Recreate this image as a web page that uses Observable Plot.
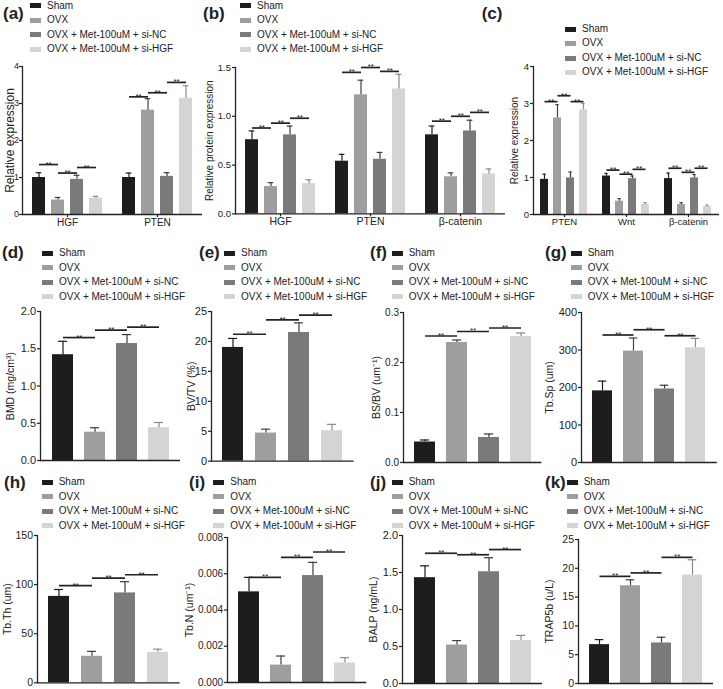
<!DOCTYPE html>
<html><head><meta charset="utf-8">
<script src="https://cdn.jsdelivr.net/npm/d3@7"></script>
<script src="https://cdn.jsdelivr.net/npm/@observablehq/plot@0.6"></script>
<style>
html,body{margin:0;padding:0;background:#fff;overflow:hidden;}
#page{position:relative;width:723px;height:689px;font-family:"Liberation Sans",Arial,Helvetica,sans-serif;color:#222;}
.tag{position:absolute;font-size:17px;font-weight:bold;line-height:20px;height:20px;white-space:nowrap;}
.legend{position:absolute;font-size:10px;line-height:14.5px;}
.legend .row{display:flex;align-items:center;height:14.5px;white-space:nowrap;}
.legend .sw{width:11px;height:5px;flex:none;margin-right:6px;}
.holder{position:absolute;}
</style></head><body><div id="page"></div>
<script>
// ---------- data ----------
const series = ["Sham", "OVX", "OVX + Met-100uM + si-NC", "OVX + Met-100uM + si-HGF"];

// (a) qPCR
const aGroups = ["HGF", "PTEN"];
const aMean = [[1.00, 0.39, 0.95, 0.44], [1.00, 2.82, 1.03, 3.14]];
const aErr  = [[0.13, 0.07, 0.11, 0.05], [0.12, 0.31, 0.10, 0.34]];
const aSig  = [[1.35, 1.12, 1.27], [3.18, 3.29, 3.57]];
const aTicks = [0, 1, 2, 3, 4];

// (b) western blot
const bGroups = ["HGF", "PTEN", "β-catenin"];
const bMean = [[0.76, 0.28, 0.81, 0.31], [0.54, 1.22, 0.56, 1.28], [0.81, 0.38, 0.85, 0.41]];
const bErr  = [[0.09, 0.04, 0.09, 0.04], [0.07, 0.15, 0.07, 0.15], [0.09, 0.04, 0.11, 0.05]];
const bSig  = [[0.88, 0.93, 0.98], [1.45, 1.50, 1.46], [0.95, 1.00, 1.04]];
const bTicks = [0, 0.5, 1.0, 1.5];

// (c) qPCR
const cGroups = ["PTEN", "Wnt", "β-catenin"];
const cMean = [[0.95, 2.61, 0.99, 2.83], [1.04, 0.36, 0.97, 0.27], [0.97, 0.27, 0.99, 0.22]];
const cErr  = [[0.14, 0.36, 0.16, 0.17], [0.07, 0.07, 0.07, 0.05], [0.15, 0.05, 0.09, 0.03]];
const cSig  = [[3.05, 3.21, 3.05], [1.20, 1.09, 1.22], [1.25, 1.14, 1.25]];
const cTicks = [0, 1, 2, 3, 4];

// (d)-(k) single measures
const dMean = [1.42, 0.38, 1.57, 0.44];        const dErr = [0.18, 0.06, 0.12, 0.07];       const dSig = [1.65, 1.75, 1.79];
const dTicks = [0, 0.5, 1.0, 1.5, 2.0];
const eMean = [19.0, 4.7, 21.5, 5.1];          const eErr = [1.5, 0.65, 1.6, 1.05];         const eSig = [21.2, 23.6, 24.4];
const eTicks = [0, 5, 10, 15, 20, 25];
const fMean = [0.041, 0.240, 0.050, 0.252];    const fErr = [0.004, 0.005, 0.007, 0.007];   const fSig = [0.253, 0.262, 0.269];
const fTicks = [0, 0.1, 0.2, 0.3];
const gMean = [191, 297, 196, 306];            const gErr = [26, 35, 10, 25];               const gSig = [340, 354, 338];
const gTicks = [0, 100, 200, 300, 400];
const hMean = [88, 27, 91.5, 31];              const hErr = [7, 5, 11.5, 3.2];              const hSig = [99, 106.5, 110];
const hTicks = [0, 50, 100, 150];
const iMean = [0.0050, 0.00096, 0.0059, 0.00107]; const iErr = [0.0008, 0.0005, 0.00073, 0.0003]; const iSig = [0.0058, 0.0069, 0.0072];
const iTicks = [0, 0.002, 0.004, 0.006, 0.008];
const jMean = [1.43, 0.52, 1.51, 0.58];        const jErr = [0.16, 0.06, 0.19, 0.07];       const jSig = [1.76, 1.74, 1.81];
const jTicks = [0, 0.5, 1.0, 1.5, 2.0];
const kMean = [6.75, 16.97, 7.04, 18.82];      const kErr = [0.87, 1.03, 0.99, 2.66];       const kSig = [18.6, 19.2, 21.9];
const kTicks = [0, 5, 10, 15, 20, 25];

// ---------- styles ----------
const FONT = "'Liberation Sans', Arial, Helvetica, sans-serif";
const ink = "#222";
const fills = ["#1e1d1e", "#9e9e9e", "#7a7a7a", "#d4d4d4"];
const errInk = ["#1e1d1e", "#404040", "#3a3a3a", "#8a8a8a"];

const panels = [
  {tag: "(a)", tagX: 3, tagY: 13.7, legX: 30, legY: -1.3, groups: aGroups, mean: aMean, err: aErr, sig: aSig, ticks: aTicks, fmt: "d",
   ylabel: "Relative expression", ylfs: 12, tfs: 9, xfs: 10, tpad: 0.5,
   L: {x0: 21.7, top: 66, bottom: 214, facetW: 90, padIn: 0.316, padOut: 0.526, labOff: 12.5}},
  {tag: "(b)", tagX: 203, tagY: 13.7, legX: 240, legY: -1.3, groups: bGroups, mean: bMean, err: bErr, sig: bSig, ticks: bTicks, fmt: ".1f",
   ylabel: "Relative protein expression", ylfs: 10, tfs: 9.5, xfs: 10.5,
   L: {x0: 235, top: 67.3, bottom: 213.7, facetW: 90, padIn: 0.333, padOut: 0.474, labOff: 26}},
  {tag: "(c)", tagX: 481.7, tagY: 14, legX: 565, legY: 21.8, groups: cGroups, mean: cMean, err: cErr, sig: cSig, ticks: cTicks, fmt: "d",
   ylabel: "Relative expression", ylfs: 10, tfs: 9.5, xfs: 9.5,
   L: {x0: 532.3, top: 66, bottom: 214, facetW: 62.5, padIn: 0.36, padOut: 0.53, labOff: 19}},
  {tag: "(d)", tagX: 2, tagY: 252.5, legX: 42, legY: 246, mean: dMean, err: dErr, sig: dSig, ticks: dTicks, fmt: ".1f",
   ylabel: "BMD (mg/cm³)", ylfs: 10.5, tfs: 11, L: {x0: 40, x1: 180, top: 311, bottom: 460, labOff: 29.5}},
  {tag: "(e)", tagX: 199, tagY: 252.5, legX: 224, legY: 246, mean: eMean, err: eErr, sig: eSig, ticks: eTicks, fmt: "d",
   ylabel: "BV/TV (%)", ylfs: 10.5, tfs: 11, L: {x0: 210.7, x1: 353.3, top: 311, bottom: 460.7, labOff: 20}},
  {tag: "(f)", tagX: 370, tagY: 252.5, legX: 391.7, legY: 246, mean: fMean, err: fErr, sig: fSig, ticks: fTicks, fmt: ".1f",
   ylabel: "BS/BV (um⁻¹)", ylfs: 10.5, tfs: 10, L: {x0: 403.3, x1: 541.7, top: 311.7, bottom: 461.7, labOff: 27}},
  {tag: "(g)", tagX: 545, tagY: 252.5, legX: 570.7, legY: 246, mean: gMean, err: gErr, sig: gSig, ticks: gTicks, fmt: "d",
   ylabel: "Tb.Sp (um)", ylfs: 10.5, tfs: 11, L: {x0: 581.2, x1: 717, top: 311.7, bottom: 461.7, labOff: 31.7}},
  {tag: "(h)", tagX: 4, tagY: 483, legX: 41.7, legY: 475, mean: hMean, err: hErr, sig: hSig, ticks: hTicks, fmt: "d",
   ylabel: "Tb.Th (um)", ylfs: 10.5, tfs: 10.5, L: {x0: 37.3, x1: 180, top: 535, bottom: 682.3, labOff: 30}},
  {tag: "(i)", tagX: 189, tagY: 483, legX: 213.3, legY: 475, mean: iMean, err: iErr, sig: iSig, ticks: iTicks, fmt: ".3f",
   ylabel: "Tb.N (um⁻¹)", ylfs: 10.5, tfs: 10, L: {x0: 226.7, x1: 366, top: 537.3, bottom: 682.3, labOff: 37.7}},
  {tag: "(j)", tagX: 370, tagY: 483, legX: 391.7, legY: 475, mean: jMean, err: jErr, sig: jSig, ticks: jTicks, fmt: ".1f",
   ylabel: "BALP (ng/mL)", ylfs: 10.5, tfs: 11, L: {x0: 401.7, x1: 541.7, top: 535, bottom: 683, labOff: 28.7}},
  {tag: "(k)", tagX: 545, tagY: 483, legX: 566.7, legY: 475, mean: kMean, err: kErr, sig: kSig, ticks: kTicks, fmt: "d",
   ylabel: "TRAP5b (u/L)", ylfs: 10.5, tfs: 10.5, L: {x0: 578, x1: 713, top: 539, bottom: 683, labOff: 29}}
];

const page = document.getElementById("page");

function addLegend(x, y) {
  const div = document.createElement("div");
  div.className = "legend";
  div.style.left = x + "px";
  div.style.top = y + "px";
  series.forEach((s, i) => {
    const row = document.createElement("div");
    row.className = "row";
    const sw = document.createElement("span");
    sw.className = "sw";
    sw.style.background = fills[i];
    const t = document.createElement("span");
    t.textContent = s;
    row.appendChild(sw); row.appendChild(t);
    div.appendChild(row);
  });
  page.appendChild(div);
}

function addTag(text, x, cy) {
  const div = document.createElement("div");
  div.className = "tag";
  div.style.left = x + "px";
  div.style.top = (cy - 10) + "px";
  div.textContent = text;
  page.appendChild(div);
}

function makePanel(p) {
  const faceted = !!p.groups;
  const groups = faceted ? p.groups : ["all"];
  const mean = faceted ? p.mean : [p.mean];
  const err = faceted ? p.err : [p.err];
  const sig = faceted ? p.sig : [p.sig];
  const L = p.L;
  const padIn = L.padIn ?? 0.35, padOut = L.padOut ?? 0.33;

  const rows = [], brk = [];
  groups.forEach((g, gi) => {
    series.forEach((s, si) => rows.push({group: g, series: s, si, value: mean[gi][si], top: mean[gi][si] + err[gi][si]}));
    sig[gi].forEach((y, k) => brk.push({group: g, a: series[k], b: series[k + 1], y}));
  });

  const mL = 52, mR = 6, mT = 10, mB = faceted ? 22 : 6;
  const span = faceted ? L.facetW * groups.length : L.x1 - L.x0;
  const inner = faceted ? L.facetW : span;
  const step = inner / (series.length - padIn + 2 * padOut);
  const barW = step * (1 - padIn);
  const capInset = barW * 0.28;
  const fxo = faceted ? {fx: "group"} : {};
  const fa = faceted ? {facetAnchor: "left"} : {};
  const ymax = p.ticks[p.ticks.length - 1];

  const marks = [];
  marks.push(Plot.barY(rows, {...fxo, x: "series", y1: 0, y2: "value", fill: "series"}));
  series.forEach((s, si) => {
    marks.push(Plot.ruleX(rows, {...fxo, filter: d => d.si === si, x: "series", y1: "value", y2: "top", stroke: errInk[si], strokeWidth: 1.2}));
    marks.push(Plot.tickY(rows, {...fxo, filter: d => d.si === si, x: "series", y: "top", stroke: errInk[si], strokeWidth: 1.2, inset: capInset}));
  });
  marks.push(Plot.link(brk, {...fxo, x1: "a", x2: "b", y1: "y", y2: "y", stroke: ink, strokeWidth: 1.7}));
  marks.push(Plot.text(brk, {...fxo, x: "a", y: "y", text: () => "**", dx: step / 2, dy: 2, lineAnchor: "bottom", fontSize: 8, fill: ink}));
  marks.push(Plot.ruleY([0], {stroke: ink, strokeWidth: 1.3}));
  marks.push(Plot.frame({anchor: "left", stroke: ink, strokeWidth: 1.3, ...fa}));
  marks.push(Plot.axisY({ticks: p.ticks, tickFormat: p.fmt, tickSize: 3, tickPadding: p.tpad ?? 1.5, fontSize: p.tfs, fill: ink, stroke: ink, strokeWidth: 1.2, label: null}));
  marks.push(Plot.text([p.ylabel], {frameAnchor: "left", textAnchor: "middle", lineAnchor: "middle", rotate: -90, dx: -L.labOff, text: d => d, fontSize: p.ylfs, fill: ink, ...fa}));
  if (faceted) marks.push(Plot.axisFx({anchor: "bottom", tickSize: 3, tickPadding: 1, fontSize: p.xfs, fill: ink, stroke: ink, strokeWidth: 1.2, label: null}));

  const opts = {
    width: mL + span + mR,
    height: mT + (L.bottom - L.top) + mB,
    marginLeft: mL, marginRight: mR, marginTop: mT, marginBottom: mB,
    style: {fontFamily: FONT, fontSize: "10.5px", background: "transparent", overflow: "visible", maxWidth: "none", color: ink},
    x: {domain: series, paddingInner: padIn, paddingOuter: padOut, axis: null},
    y: {domain: [0, ymax], axis: null},
    color: {domain: series, range: fills},
    marks
  };
  if (faceted) opts.fx = {domain: groups, paddingInner: 0, paddingOuter: 0, axis: null};
  const svg = Plot.plot(opts);
  const holder = document.createElement("div");
  holder.className = "holder";
  holder.style.left = (L.x0 - mL) + "px";
  holder.style.top = (L.top - mT) + "px";
  holder.appendChild(svg);
  page.appendChild(holder);

  addLegend(p.legX, p.legY);
  addTag(p.tag, p.tagX, p.tagY);
}

panels.forEach(makePanel);
</script></body></html>
